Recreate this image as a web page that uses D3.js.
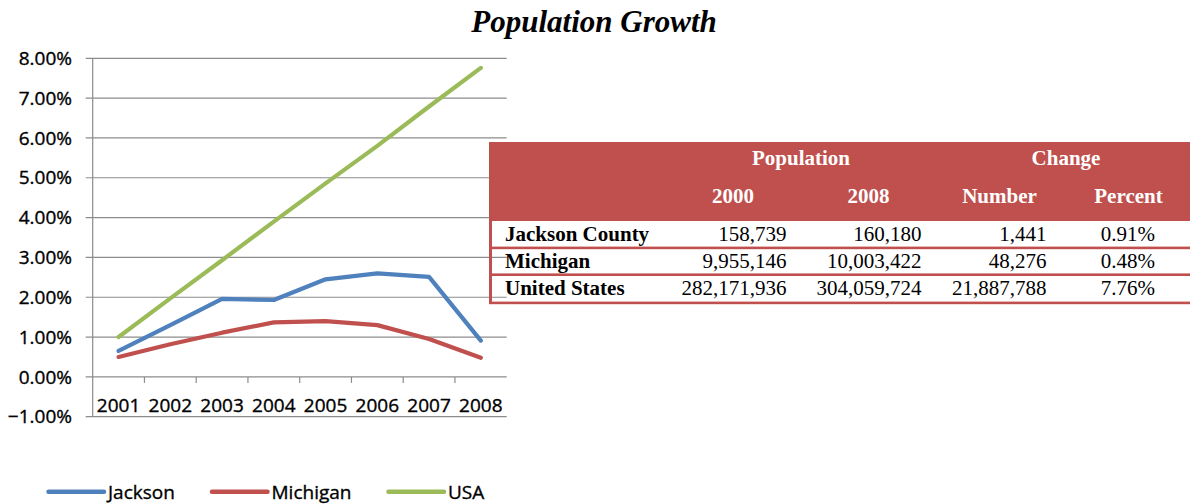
<!DOCTYPE html>
<html>
<head>
<meta charset="utf-8">
<script src="https://cdn.jsdelivr.net/npm/d3@7"></script>
<style>
  html, body { margin: 0; padding: 0; background: #fff; }
  svg { display: block; }
  .axis-label { font-family: 'Open Sans', sans-serif; font-size: 19px; fill: #000; stroke: #000; stroke-width: 0.35px; }
</style>
</head>
<body>
<svg id="chart" width="1190" height="504"></svg>
<script>
// Annual population growth, 2001-2008 (percent)
const years = ["2001", "2002", "2003", "2004", "2005", "2006", "2007", "2008"];
const jackson = [0.65, 1.30, 1.96, 1.93, 2.45, 2.60, 2.51, 0.91];
const michigan = [0.50, 0.82, 1.11, 1.37, 1.40, 1.30, 0.95, 0.48];
const usa = [1.00, 1.97, 2.93, 3.90, 4.86, 5.80, 6.79, 7.76];
const yTicks = [-1, 0, 1, 2, 3, 4, 5, 6, 7, 8];

const seriesNames = ["Jackson", "Michigan", "USA"];
const seriesColors = ["#4F81BD", "#C0504D", "#9BBB59"];

// Summary table
const tableAreas = ["Jackson County", "Michigan", "United States"];
const pop2000 = [158739, 9955146, 282171936];
const pop2008 = [160180, 10003422, 304059724];
const changeNumber = [1441, 48276, 21887788];
const changePercent = [0.91, 0.48, 7.76];
const groupHeaders = ["Population", "Change"];
const columnHeaders = ["2000", "2008", "Number", "Percent"];

const svg = d3.select("#chart");
const serif = "'Liberation Serif', 'Times New Roman', serif";

// Title
svg.append("text")
  .attr("x", 594).attr("y", 32)
  .attr("text-anchor", "middle")
  .style("font-family", serif)
  .style("font-weight", "bold")
  .style("font-style", "italic")
  .style("font-size", "31px")
  .text("Population Growth");

// Scales
const plotLeft = 92.7, plotRight = 506.7;
const x = d3.scaleBand().domain(years).range([plotLeft, plotRight]).padding(0);
const y = d3.scaleLinear().domain([-1, 8]).range([416.7, 58.3]);
const cx = d => x(d) + x.bandwidth() / 2;

// Horizontal gridlines with small left ticks
const grid = svg.append("g");
grid.selectAll("line.grid")
  .data(yTicks)
  .join("line")
  .attr("x1", plotLeft - 7).attr("x2", plotRight)
  .attr("y1", d => y(d)).attr("y2", d => y(d))
  .attr("stroke", "#8c8c8c").attr("stroke-width", 1.2);

// Vertical value axis line
grid.append("line")
  .attr("x1", plotLeft).attr("x2", plotLeft)
  .attr("y1", y(8)).attr("y2", y(-1))
  .attr("stroke", "#8c8c8c").attr("stroke-width", 1.2);

// Y labels
svg.append("g").selectAll("text")
  .data(yTicks)
  .join("text")
  .attr("class", "axis-label")
  .attr("x", 72).attr("y", d => y(d))
  .attr("dy", "0.35em")
  .attr("text-anchor", "end")
  .text(d => d3.format(".2f")(d) + "%");

// Category tick marks below the zero line, between categories
svg.append("g").selectAll("line")
  .data(years.slice(1))
  .join("line")
  .attr("x1", d => x(d)).attr("x2", d => x(d))
  .attr("y1", y(0)).attr("y2", y(0) + 6)
  .attr("stroke", "#8c8c8c").attr("stroke-width", 1.2);

// Category labels
svg.append("g").selectAll("text")
  .data(years)
  .join("text")
  .attr("class", "axis-label")
  .attr("x", d => cx(d)).attr("y", 411.5)
  .attr("text-anchor", "middle")
  .text(d => d);

// Lines
const seriesData = [jackson, michigan, usa];
const line = d3.line()
  .x((d, i) => cx(years[i]))
  .y(d => y(d));
svg.append("g").selectAll("path")
  .data(seriesData)
  .join("path")
  .attr("d", d => line(d))
  .attr("fill", "none")
  .attr("stroke", (d, i) => seriesColors[i])
  .attr("stroke-width", 4.2)
  .attr("stroke-linejoin", "round")
  .attr("stroke-linecap", "round");

// Legend
const legendX = [48.5, 212, 388.5];
const legend = svg.append("g").selectAll("g")
  .data(seriesNames)
  .join("g")
  .attr("transform", (d, i) => `translate(${legendX[i]},491.7)`);
legend.append("line")
  .attr("x1", 0).attr("x2", 55.5)
  .attr("stroke", (d, i) => seriesColors[i])
  .attr("stroke-width", 4.5)
  .attr("stroke-linecap", "round");
legend.append("text")
  .attr("class", "axis-label")
  .attr("x", 59.5).attr("y", 6.8)
  .text(d => d);

// Summary table
const red = "#C0504D";
const table = svg.append("g");
table.append("rect")
  .attr("x", 489).attr("y", 142)
  .attr("width", 701).attr("height", 79)
  .attr("fill", red);
table.append("rect")
  .attr("x", 489).attr("y", 221)
  .attr("width", 3).attr("height", 83)
  .attr("fill", red);
const rowBaselines = [241, 268, 295];
const rowRules = [246.6, 273.4, 301.6];
table.selectAll("rect.rule")
  .data(rowRules)
  .join("rect")
  .attr("class", "rule")
  .attr("x", 489).attr("y", d => d)
  .attr("width", 701).attr("height", 2.6)
  .attr("fill", red);

// Header text
const groupCenters = [801, 1066];
table.selectAll("text.group")
  .data(groupHeaders)
  .join("text")
  .attr("class", "group")
  .attr("x", (d, i) => groupCenters[i]).attr("y", 165)
  .attr("text-anchor", "middle")
  .style("font-family", serif).style("font-weight", "bold").style("font-size", "21px")
  .attr("fill", "#fff")
  .text(d => d);
const colCenters = [733, 868.5, 999.5, 1128.5];
table.selectAll("text.col")
  .data(columnHeaders)
  .join("text")
  .attr("class", "col")
  .attr("x", (d, i) => colCenters[i]).attr("y", 203)
  .attr("text-anchor", "middle")
  .style("font-family", serif).style("font-weight", "bold").style("font-size", "21px")
  .attr("fill", "#fff")
  .text(d => d);

// Body cells
const fmt = d3.format(",");
const colRights = [786.5, 921.5, 1046.5, 1155];
const columns = [
  pop2000.map(fmt),
  pop2008.map(fmt),
  changeNumber.map(fmt),
  changePercent.map(v => d3.format(".2f")(v) + "%")
];
table.selectAll("text.area")
  .data(tableAreas)
  .join("text")
  .attr("class", "area")
  .attr("x", 505).attr("y", (d, i) => rowBaselines[i])
  .style("font-family", serif).style("font-weight", "bold").style("font-size", "21px")
  .attr("fill", "#000")
  .text(d => d);
columns.forEach((col, c) => {
  table.append("g").selectAll("text")
    .data(col)
    .join("text")
    .attr("x", colRights[c]).attr("y", (d, i) => rowBaselines[i])
    .attr("text-anchor", "end")
    .style("font-family", serif).style("font-size", "21px")
    .attr("fill", "#000")
    .text(d => d);
});
</script>
</body>
</html>
